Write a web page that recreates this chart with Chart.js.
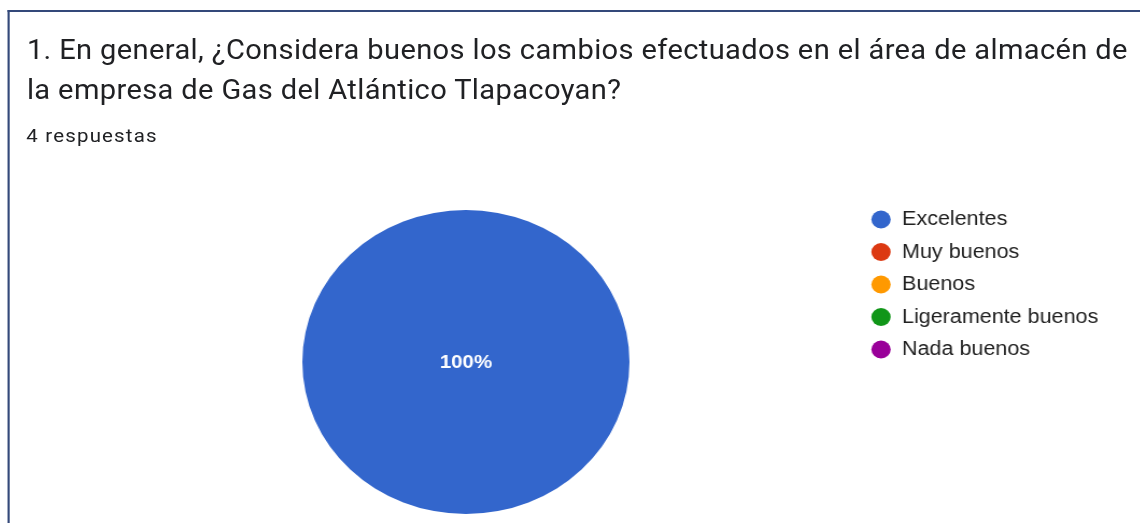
<!DOCTYPE html>
<html lang="es">
<head>
    <meta charset="UTF-8">
    <title>Encuesta - pregunta 1</title>
    <script src="https://cdn.jsdelivr.net/npm/chart.js"></script>
    <style>
        html, body {
            margin: 0;
            padding: 0;
            width: 1140px;
            height: 523px;
            overflow: hidden;
            background: #fff;
        }

        /* the original screenshot is stretched sideways a bit */
        #page {
            position: absolute;
            left: 0;
            top: 0;
            width: 1060px;
            height: 523px;
            transform: scaleX(1.076);
            transform-origin: 0 0;
        }

        .frame {
            position: absolute;
            left: 6.5px;
            top: 10px;
            width: 2000px;
            height: 1000px;
            border-top: 2px solid #34497a;
            border-left: 2px solid #34497a;
        }

        .title {
            position: absolute;
            left: 25px;
            top: 29.8px;
            font-family: Roboto, sans-serif;
            font-size: 27px;
            letter-spacing: 0.35px;
            line-height: 40px;
            color: #202124;
            white-space: nowrap;
        }

        .count {
            position: absolute;
            left: 24.5px;
            top: 126px;
            font-family: Roboto, sans-serif;
            font-size: 19px;
            letter-spacing: 1.1px;
            line-height: 20px;
            color: #202124;
        }

        #pieChart {
            position: absolute;
            left: 0;
            top: 170px;
        }
    </style>
</head>
<body>
<div id="page">
    <div class="frame"></div>
    <div class="title">1. En general, ¿Considera buenos los cambios efectuados en el área de almacén de<br>la empresa de Gas del Atlántico Tlapacoyan?</div>
    <div class="count">4 respuestas</div>
    <canvas id="pieChart" width="1060" height="353"></canvas>
</div>

<script>
    const categories = ['Excelentes', 'Muy buenos', 'Buenos', 'Ligeramente buenos', 'Nada buenos'];
    const answers = [4, 0, 0, 0, 0];
    const sliceColors = ['#3366cc', '#dc3912', '#ff9900', '#109618', '#990099'];

    // percentage written in the middle of each slice
    const sliceLabels = {
        id: 'sliceLabels',
        afterDatasetsDraw(chart) {
            const ctx = chart.ctx;
            const meta = chart.getDatasetMeta(0);
            const total = answers.reduce((a, b) => a + b, 0);
            ctx.save();
            ctx.fillStyle = '#ffffff';
            ctx.font = 'bold 19px "Liberation Sans", Arial, sans-serif';
            ctx.textAlign = 'center';
            ctx.textBaseline = 'middle';
            meta.data.forEach((arc, i) => {
                if (!answers[i]) return;
                const pct = Math.round(answers[i] / total * 100) + '%';
                let pos;
                if (arc.circumference >= Math.PI * 2 - 0.001) {
                    pos = { x: arc.x, y: arc.y };
                } else {
                    pos = arc.tooltipPosition();
                }
                ctx.fillText(pct, pos.x, pos.y + 1);
            });
            ctx.restore();
        }
    };

    // put the legend where it sits in the screenshot
    const legendSpot = {
        id: 'legendSpot',
        afterLayout(chart) {
            const lg = chart.legend;
            const w = lg.width, h = lg.height;
            lg.left = 796.8;
            lg.top = 27;
            lg.right = lg.left + w;
            lg.bottom = lg.top + h;
        }
    };

    const ctx = document.getElementById('pieChart').getContext('2d');
    const pieChart = new Chart(ctx, {
        type: 'pie',
        data: {
            labels: categories,
            datasets: [{
                data: answers,
                backgroundColor: sliceColors,
                borderWidth: 0
            }]
        },
        options: {
            responsive: false,
            animation: false,
            layout: {
                padding: { left: 281, right: 475, top: 40, bottom: 9 }
            },
            plugins: {
                legend: {
                    position: 'chartArea',
                    align: 'start',
                    labels: {
                        usePointStyle: true,
                        pointStyle: 'circle',
                        boxWidth: 19,
                        boxHeight: 12.7,
                        padding: 12.5,
                        color: '#212121',
                        font: { family: '"Liberation Sans", Arial, sans-serif', size: 20 }
                    }
                },
                tooltip: { enabled: false }
            }
        },
        plugins: [sliceLabels, legendSpot]
    });
</script>
</body>
</html>
